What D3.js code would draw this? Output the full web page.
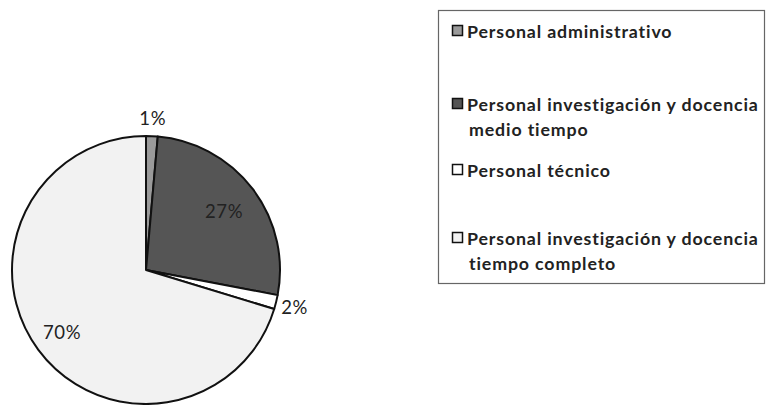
<!DOCTYPE html>
<html><head><meta charset="utf-8">
<script src="https://cdn.jsdelivr.net/npm/d3@7"></script>
<style>body{margin:0;background:#fff}svg{display:block}</style>
</head><body>
<svg id="c" width="766" height="405"></svg>
<script>
const categories = ["Personal administrativo","Personal investigación y docencia medio tiempo","Personal técnico","Personal investigación y docencia tiempo completo"];
const legendLines = [["Personal administrativo"],["Personal investigación y docencia","medio tiempo"],["Personal técnico"],["Personal investigación y docencia","tiempo completo"]];
const values = [1.4, 26.6, 1.7, 70.3];
const labels = ["1%","27%","2%","70%"];
const colors = ["#9a9a9a","#555555","#ffffff","#f2f2f2"];

const svg = d3.select("#c");
const cx = 146, cy = 270, R = 134;
const pie = d3.pie().sort(null).value(d => d)(values);
const arc = d3.arc().innerRadius(0).outerRadius(R);
const g = svg.append("g").attr("transform", `translate(${cx},${cy})`);
g.selectAll("path").data(pie).join("path")
  .attr("d", arc).attr("fill", (d,i) => colors[i])
  .attr("stroke", "#111").attr("stroke-width", 2).attr("stroke-linejoin","round");

const labelR = [R+18, R*0.73, R+19, R*0.78];
const font = "Lato, 'Open Sans', sans-serif";
g.selectAll("text.lbl").data(pie).join("text").attr("class","lbl")
  .attr("transform", (d,i) => {
    const p = d3.arc().innerRadius(labelR[i]).outerRadius(labelR[i]).centroid(d);
    return `translate(${p[0]},${p[1]})`;
  })
  .attr("text-anchor","middle").attr("dominant-baseline","central")
  .attr("font-family", font).attr("font-size", 18.5).attr("letter-spacing", 0.6).attr("fill","#222")
  .text((d,i) => labels[i]);

// legend
const lx = 438, ly = 10, lw = 326, lh = 273;
svg.append("rect").attr("x", lx+0.5).attr("y", ly+0.5).attr("width", lw).attr("height", lh)
  .attr("fill","#fff").attr("stroke","#666").attr("stroke-width",1.2);
const itemY = [31, 104, 170, 238];
const lg = svg.append("g");
categories.forEach((c, i) => {
  lg.append("rect").attr("x", 452.5).attr("y", itemY[i]-5.5).attr("width", 10).attr("height", 10)
    .attr("fill", colors[i]).attr("stroke","#111").attr("stroke-width",1.5);
  legendLines[i].forEach((t, j) => {
    lg.append("text").attr("x", j === 0 ? 467 : 469).attr("y", itemY[i] + j*25)
      .attr("dominant-baseline","central")
      .attr("font-family", font).attr("font-weight", 700).attr("font-size", 17.8)
      .attr("letter-spacing", 0.85).attr("fill","#222")
      .text(t);
  });
});
</script>
</body></html>
